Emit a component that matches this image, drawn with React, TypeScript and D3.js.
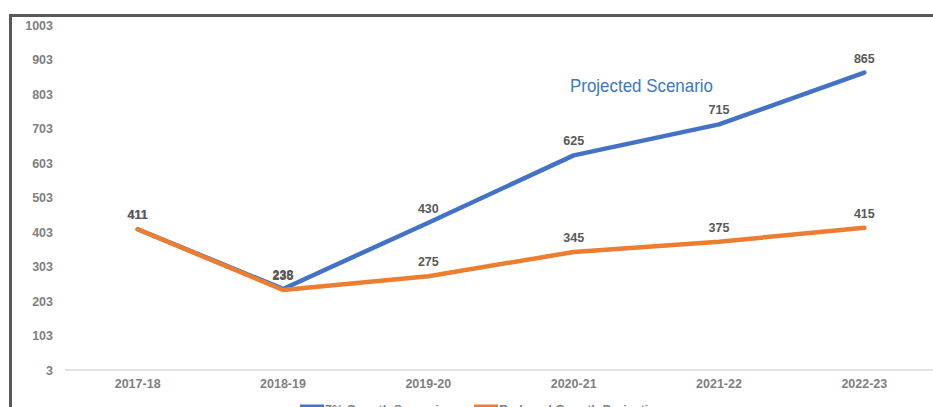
import { useEffect, useRef } from "react";
import * as d3 from "d3";

const categories = ["2017-18", "2018-19", "2019-20", "2020-21", "2021-22", "2022-23"];
const growthValues = [411, 238, 430, 625, 715, 865];
const reducedValues = [411, 235, 275, 345, 375, 415];
const yTicks = [3, 103, 203, 303, 403, 503, 603, 703, 803, 903, 1003];
const seriesNames = ["7% Growth Scenario", "Reduced Growth Projection"];
const annotation = "Projected Scenario";

const BLUE = "#4472C4";
const ORANGE = "#ED7D31";
const FONT = "'Liberation Sans', Arial, sans-serif";

const App = () => {
  const svgRef = useRef<SVGSVGElement | null>(null);

  useEffect(() => {
    const width = 933;
    const height = 407;
    const svg = d3.select(svgRef.current);
    svg.selectAll("*").remove();
    svg.attr("width", width).attr("height", height);

    const x = d3.scaleBand<string>().domain(categories).range([65, 937]);
    const y = d3.scaleLinear().domain([3, 1003]).range([370, 25]);
    const cx = (c: string) => (x(c) ?? 0) + x.bandwidth() / 2;

    // frame (top + left border)
    svg.append("rect").attr("x", 9).attr("y", 14).attr("width", width).attr("height", 3).attr("fill", "#595959");
    svg.append("rect").attr("x", 9).attr("y", 14).attr("width", 3).attr("height", height).attr("fill", "#595959");

    // baseline
    svg.append("line")
      .attr("x1", 65).attr("x2", width)
      .attr("y1", y(3)).attr("y2", y(3))
      .attr("stroke", "#D9D9D9").attr("stroke-width", 1.5);

    // y tick labels
    svg.append("g").selectAll("text").data(yTicks).enter().append("text")
      .attr("x", 53)
      .attr("y", (d) => y(d) + 4.5)
      .attr("text-anchor", "end")
      .style("font-family", FONT)
      .style("font-size", "12.5px")
      .style("font-weight", "bold")
      .style("fill", "#7F7F7F")
      .text((d) => d);

    // x tick labels
    svg.append("g").selectAll("text").data(categories).enter().append("text")
      .attr("x", (d) => cx(d))
      .attr("y", 388)
      .attr("text-anchor", "middle")
      .style("font-family", FONT)
      .style("font-size", "12.5px")
      .style("font-weight", "bold")
      .style("fill", "#7F7F7F")
      .text((d) => d);

    const line = d3.line<number>()
      .x((_, i) => cx(categories[i]))
      .y((d) => y(d));

    const series = [
      { values: growthValues, color: BLUE },
      { values: reducedValues, color: ORANGE },
    ];

    series.forEach((s) => {
      svg.append("path")
        .datum(s.values)
        .attr("fill", "none")
        .attr("stroke", s.color)
        .attr("stroke-width", 4.5)
        .attr("stroke-linejoin", "round")
        .attr("stroke-linecap", "round")
        .attr("d", line);
    });

    series.forEach((s) => {
      svg.append("g").selectAll("text").data(s.values).enter().append("text")
        .attr("x", (_, i) => cx(categories[i]))
        .attr("y", (d) => y(d) - 10)
        .attr("text-anchor", "middle")
        .style("font-family", FONT)
        .style("font-size", "12.5px")
        .style("font-weight", "bold")
        .style("fill", "#595959")
        .text((d) => d);
    });

    // annotation
    svg.append("text")
      .attr("x", 570)
      .attr("y", 92)
      .attr("textLength", 143)
      .attr("lengthAdjust", "spacingAndGlyphs")
      .style("font-family", FONT)
      .style("font-size", "19px")
      .style("fill", "#3B78C2")
      .text(annotation);

    // legend (cut off at bottom, as in the source)
    const legendX = [300, 474];
    seriesNames.forEach((name, i) => {
      const g = svg.append("g").attr("transform", `translate(${legendX[i]},0)`);
      g.append("line")
        .attr("x1", 0).attr("x2", 24)
        .attr("y1", 406).attr("y2", 406)
        .attr("stroke", i === 0 ? BLUE : ORANGE)
        .attr("stroke-width", 3);
      g.append("text")
        .attr("x", 25)
        .attr("y", 414)
        .style("font-family", FONT)
        .style("font-size", "12.5px")
        .style("font-weight", "bold")
        .style("fill", "#7F7F7F")
        .text(name);
    });
  }, []);

  return (
    <div style={{ position: "absolute", left: 0, top: 0, width: 933, height: 407, overflow: "hidden", background: "#fff" }}>
      <svg ref={svgRef} style={{ display: "block" }}></svg>
    </div>
  );
};

export default App;
